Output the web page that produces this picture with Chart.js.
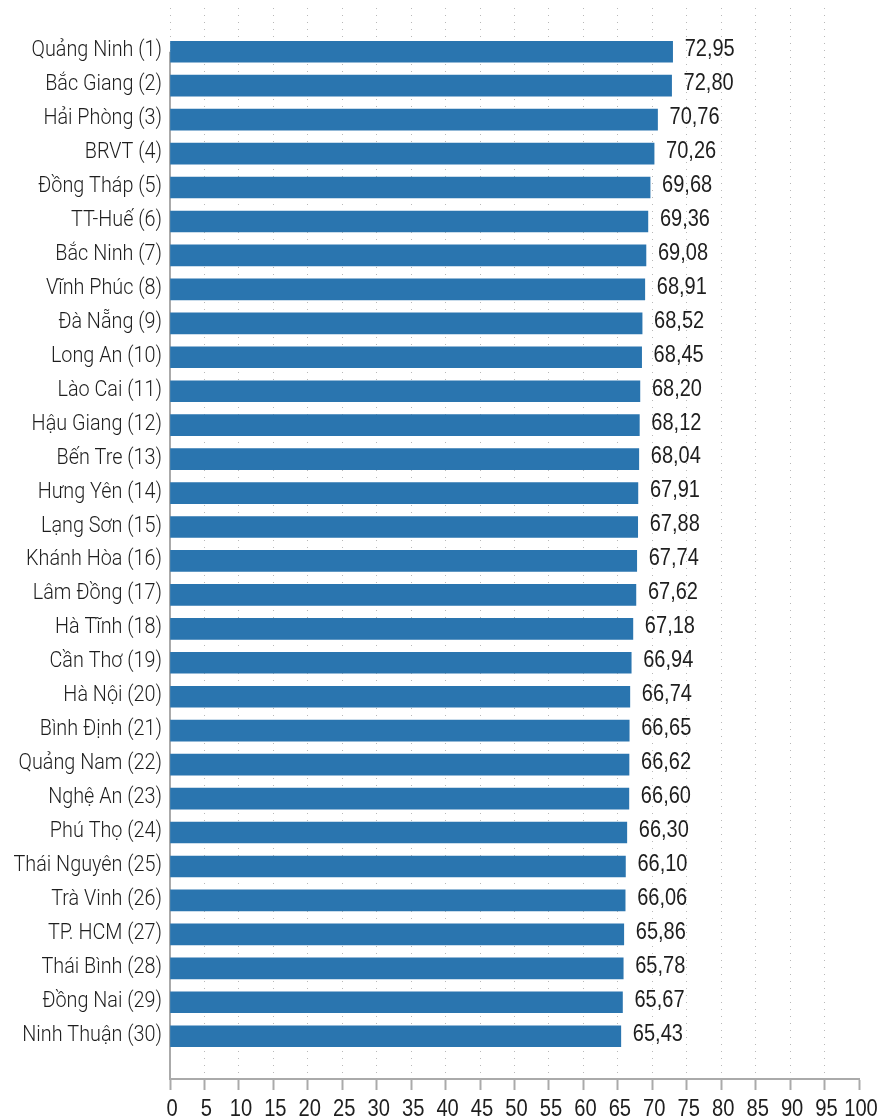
<!DOCTYPE html>
<html>
<head>
<meta charset="utf-8">
<style>
  body { margin: 0; background: #fff; }
  canvas { display: block; }
</style>
<script src="https://cdn.jsdelivr.net/npm/chart.js@4.4.0/dist/chart.umd.min.js"></script>
</head>
<body>
<canvas id="grafico" width="883" height="1120"></canvas>
<script>
// ======= Dados =======
const tinh = ['Quảng Ninh (1)','Bắc Giang (2)','Hải Phòng (3)','BRVT (4)','Đồng Tháp (5)','TT-Huế (6)',
  'Bắc Ninh (7)','Vĩnh Phúc (8)','Đà Nẵng (9)','Long An (10)','Lào Cai (11)','Hậu Giang (12)',
  'Bến Tre (13)','Hưng Yên (14)','Lạng Sơn (15)','Khánh Hòa (16)','Lâm Đồng (17)','Hà Tĩnh (18)',
  'Cần Thơ (19)','Hà Nội (20)','Bình Định (21)','Quảng Nam (22)','Nghệ An (23)','Phú Thọ (24)',
  'Thái Nguyên (25)','Trà Vinh (26)','TP. HCM (27)','Thái Bình (28)','Đồng Nai (29)','Ninh Thuận (30)'];
const diem = [72.95,72.80,70.76,70.26,69.68,69.36,69.08,68.91,68.52,68.45,68.20,68.12,
  68.04,67.91,67.88,67.74,67.62,67.18,66.94,66.74,66.65,66.62,66.60,66.30,
  66.10,66.06,65.86,65.78,65.67,65.43];
const ticksX = [0,5,10,15,20,25,30,35,40,45,50,55,60,65,70,75,80,85,90,95,100];

const fonteNum = "'Liberation Sans', Arial, sans-serif";
const fonteNome = "Roboto, sans-serif";

// texto estreito (desenhado no canvas com escala horizontal)
function textoEstreito(ctx, txt, x, y, align, sx) {
  ctx.save();
  ctx.translate(x, y);
  ctx.scale(sx, 1);
  ctx.textAlign = align;
  ctx.fillText(txt, 0, 0);
  ctx.restore();
}

// ======= Eixo Y (linha a partir da primeira barra) =======
const eixoY = {
  id: 'eixoY',
  beforeDatasetsDraw(chart) {
    const ctx = chart.ctx;
    const primeira = chart.getDatasetMeta(0).data[0];
    const area = chart.chartArea;
    ctx.save();
    ctx.strokeStyle = '#aaa';
    ctx.lineWidth = 2;
    ctx.beginPath();
    ctx.moveTo(area.left, primeira.y);
    ctx.lineTo(area.left, area.bottom);
    ctx.stroke();
    ctx.restore();
  }
};

// ======= Rótulos =======
const rotulos = {
  id: 'rotulos',
  afterDraw(chart) {
    const ctx = chart.ctx;
    const meta = chart.getDatasetMeta(0);
    const area = chart.chartArea;
    ctx.save();
    ctx.fillStyle = '#1e1e1e';
    ctx.textBaseline = 'middle';
    meta.data.forEach((bar, i) => {
      ctx.font = "23px " + fonteNum;
      textoEstreito(ctx, diem[i].toFixed(2).replace('.', ','), bar.x + 12, bar.y - 2, 'left', 0.87);
      ctx.font = "300 22px " + fonteNome;
      textoEstreito(ctx, tinh[i], area.left - 8, bar.y - 1, 'right', 0.9);
    });
    // rótulos do eixo X
    const sx = chart.scales.x;
    ctx.font = "24px " + fonteNum;
    ticksX.forEach(v => {
      textoEstreito(ctx, String(v), sx.getPixelForValue(v) + 2, 1109, 'center', 0.84);
    });
    ctx.restore();
  }
};

new Chart(document.getElementById('grafico'), {
  type: 'bar',
  data: {
    datasets: [{
      data: diem.map((v, i) => ({ x: v, y: i })),
      backgroundColor: '#2a75af',
      barThickness: 21
    }]
  },
  options: {
    indexAxis: 'y',
    responsive: false,
    animation: false,
    layout: { padding: { top: 8, right: 24, left: 0, bottom: 0 } },
    plugins: { legend: { display: false }, tooltip: { enabled: false } },
    scales: {
      x: {
        type: 'linear',
        min: 0, max: 100,
        afterBuildTicks: s => { s.ticks = ticksX.map(v => ({ value: v })); },
        afterFit: s => { s.height = 41; },
        ticks: { display: false },
        grid: {
          color: c => (c.tick && c.tick.value === 100) ? 'rgba(0,0,0,0)' : '#b8b8b8',
          lineWidth: 1,
          tickLength: 11,
          tickColor: '#aaa',
          tickWidth: 2,
          tickBorderDash: []
        },
        border: { display: true, color: '#aaa', width: 2, dash: [1, 6] }
      },
      y: {
        type: 'linear',
        reverse: true,
        offset: false,
        min: -1.288, max: 30.26,
        afterBuildTicks: s => { s.ticks = tinh.map((t, i) => ({ value: i })); },
        afterFit: s => { s.width = 170; },
        ticks: { display: false },
        grid: { display: false, drawTicks: false, offset: false },
        border: { display: false }
      }
    }
  },
  plugins: [eixoY, rotulos]
});
</script>
</body>
</html>
